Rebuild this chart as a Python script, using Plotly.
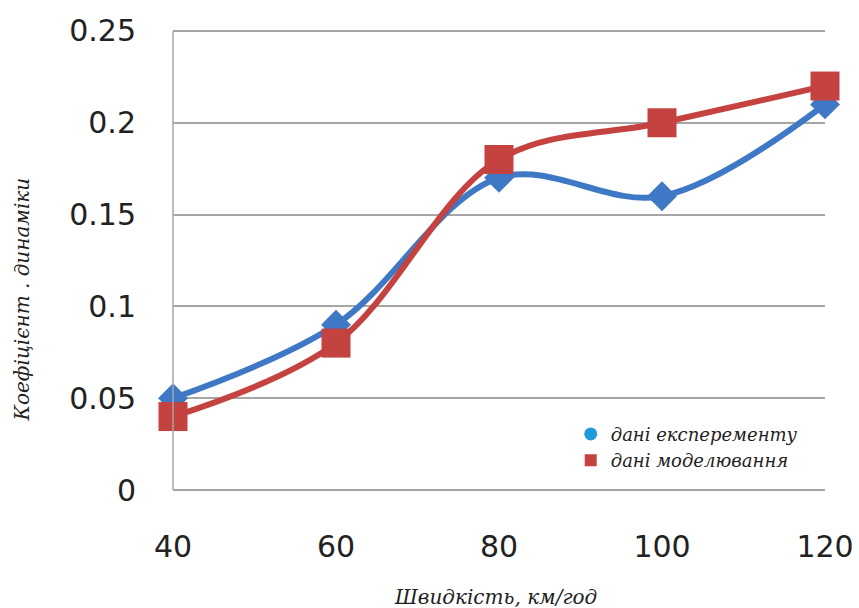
import plotly.graph_objects as go

speed = [40, 60, 80, 100, 120]
experiment = [0.05, 0.09, 0.17, 0.16, 0.21]
model = [0.04, 0.08, 0.18, 0.20, 0.22]
y_ticks = [0, 0.05, 0.1, 0.15, 0.2, 0.25]
y_labels = ["0", "0.05", "0.1", "0.15", "0.2", "0.25"]
x_ticks = [40, 60, 80, 100, 120]

name_exp = "дані експеременту"
name_mod = "дані моделювання"
y_title = "Коефіцієнт . динаміки"
x_title = "Швидкість, км/год"

blue = "#3F78C5"
red = "#C4423F"
grid = "#A6A6A6"
title_font = dict(family="DejaVu Serif", size=20, color="#222", style="italic")

fig = go.Figure()
fig.add_trace(go.Scatter(
    x=speed, y=experiment, mode="lines+markers", showlegend=False,
    line=dict(color=blue, width=6, shape="spline", smoothing=1.0),
    marker=dict(symbol="diamond", size=23, color=blue),
    cliponaxis=False))
fig.add_trace(go.Scatter(
    x=speed, y=model, mode="lines+markers", showlegend=False,
    line=dict(color=red, width=6, shape="spline", smoothing=1.0),
    marker=dict(symbol="square", size=29, color=red),
    cliponaxis=False))
fig.add_trace(go.Scatter(
    x=[None], y=[None], mode="markers", name=name_exp,
    marker=dict(symbol="circle", size=13, color="#1E9BDA")))
fig.add_trace(go.Scatter(
    x=[None], y=[None], mode="markers", name=name_mod,
    marker=dict(symbol="square", size=12, color=red)))

fig.update_layout(
    width=859, height=608,
    margin=dict(l=173, r=34, t=26, b=118),
    paper_bgcolor="white", plot_bgcolor="white",
    showlegend=True,
    legend=dict(x=0.61, y=0.16, xanchor="left", yanchor="top",
                bgcolor="rgba(0,0,0,0)", tracegroupgap=0, itemwidth=30,
                font=dict(family="DejaVu Serif", size=18, color="#222", style="italic")),
    xaxis=dict(range=[40, 120], tickvals=x_ticks, showgrid=False, zeroline=False,
               showline=False, ticks="", ticklabelstandoff=36, automargin=False,
               tickfont=dict(family="DejaVu Sans", size=30, color="#222")),
    yaxis=dict(range=[0, 0.2527], tickvals=y_ticks, ticktext=y_labels,
               showgrid=True, gridcolor=grid, gridwidth=1.5,
               zeroline=True, zerolinecolor=grid, zerolinewidth=1.5,
               showline=False, ticks="", ticklabelstandoff=36, automargin=False,
               tickfont=dict(family="DejaVu Sans", size=30, color="#222")),
    shapes=[dict(type="line", xref="paper", yref="y", x0=0, x1=0, y0=0, y1=0.25,
                 line=dict(color=grid, width=1.5))],
    annotations=[
        dict(text=y_title, xref="paper", yref="paper",
             x=-0.232, y=0.41, xanchor="center", yanchor="middle",
             textangle=-90, showarrow=False, font=title_font),
        dict(text=x_title, xref="paper", yref="paper",
             x=0.494, y=-0.231, xanchor="center", yanchor="middle",
             showarrow=False, font=title_font),
    ],
)

fig.write_html("out.html", config={"displayModeBar": False},
               post_script="document.body.style.margin='0';")
